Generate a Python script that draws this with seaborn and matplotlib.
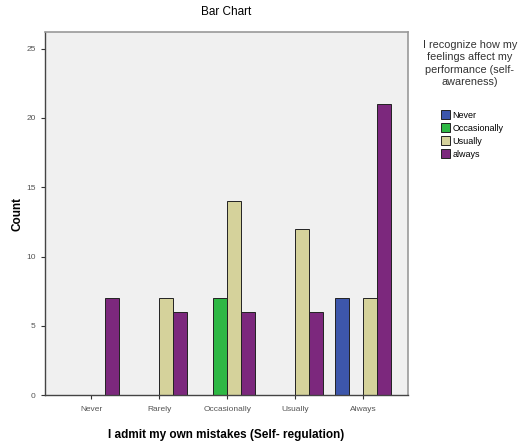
import pandas as pd
import seaborn as sns
import matplotlib.pyplot as plt

# x categories (self-regulation) and hue levels (self-awareness)
categories = ['Never', 'Rarely', 'Occasionally', 'Usually', 'Always']
hue_levels = ['Never', 'Occasionally', 'Usually', 'always']

# counts, one list per hue level (None = no bar)
never_counts = [None, None, None, None, 7]
occasionally_counts = [None, None, 7, None, None]
usually_counts = [None, 7, 14, 12, 7]
always_counts = [7, 6, 6, 6, 21]

colors = {'Never': '#3d56ab', 'Occasionally': '#2eb844',
          'Usually': '#d5d29b', 'always': '#7c287d'}

rows = []
for level, counts in zip(hue_levels, [never_counts, occasionally_counts,
                                      usually_counts, always_counts]):
    for cat, c in zip(categories, counts):
        if c is not None:
            rows.append({'mistakes': cat, 'awareness': level, 'count': c})
df = pd.DataFrame(rows)

plt.rcParams['font.family'] = ['Liberation Sans', 'DejaVu Sans']
fig = plt.figure(figsize=(5.22, 4.45), dpi=100)
ax = fig.add_axes([0.086, 0.112, 0.696, 0.816])
ax.set_facecolor('#f0f0f0')

sns.barplot(data=df, x='mistakes', y='count', hue='awareness',
            order=categories, hue_order=hue_levels, palette=colors,
            saturation=1, width=0.82, edgecolor='#222222', linewidth=0.7, ax=ax)

ax.set_ylim(0, 26.2)
ax.set_xlim(-0.68, 4.66)
ax.set_yticks([0, 5, 10, 15, 20, 25])
ax.tick_params(axis='both', labelsize=6, colors='#333333', length=3, width=0.8)
ax.tick_params(axis='y', labelcolor='#555555')
ax.tick_params(axis='x', labelcolor='#555555', pad=5)

for side in ['left', 'bottom']:
    ax.spines[side].set_color('#444444')
    ax.spines[side].set_linewidth(1.0)
for side in ['top', 'right']:
    ax.spines[side].set_color('#999999')
    ax.spines[side].set_linewidth(1.2)

ax.set_xlabel('I admit my own mistakes (Self- regulation)', fontsize=8.5,
              fontweight='bold', labelpad=11)
ax.set_ylabel('Count', fontsize=8.5, fontweight='bold', labelpad=2)
ax.set_title('Bar Chart', fontsize=8.5, pad=12)

fig.text(0.9, 0.91,
         'I recognize how my\nfeelings affect my\nperformance (self-\nawareness)',
         ha='center', va='top', fontsize=7.8, color='#333333',
         multialignment='center', linespacing=1.3)

handles, labels = ax.get_legend_handles_labels()
ax.legend(handles, labels, loc='upper left', bbox_to_anchor=(0.837, 0.762),
          bbox_transform=fig.transFigure, frameon=False,
          fontsize=6.5, handlelength=0.9, handleheight=1.1,
          handletextpad=0.35, labelspacing=0.4, borderpad=0)

fig.savefig('out.png', dpi=100)
